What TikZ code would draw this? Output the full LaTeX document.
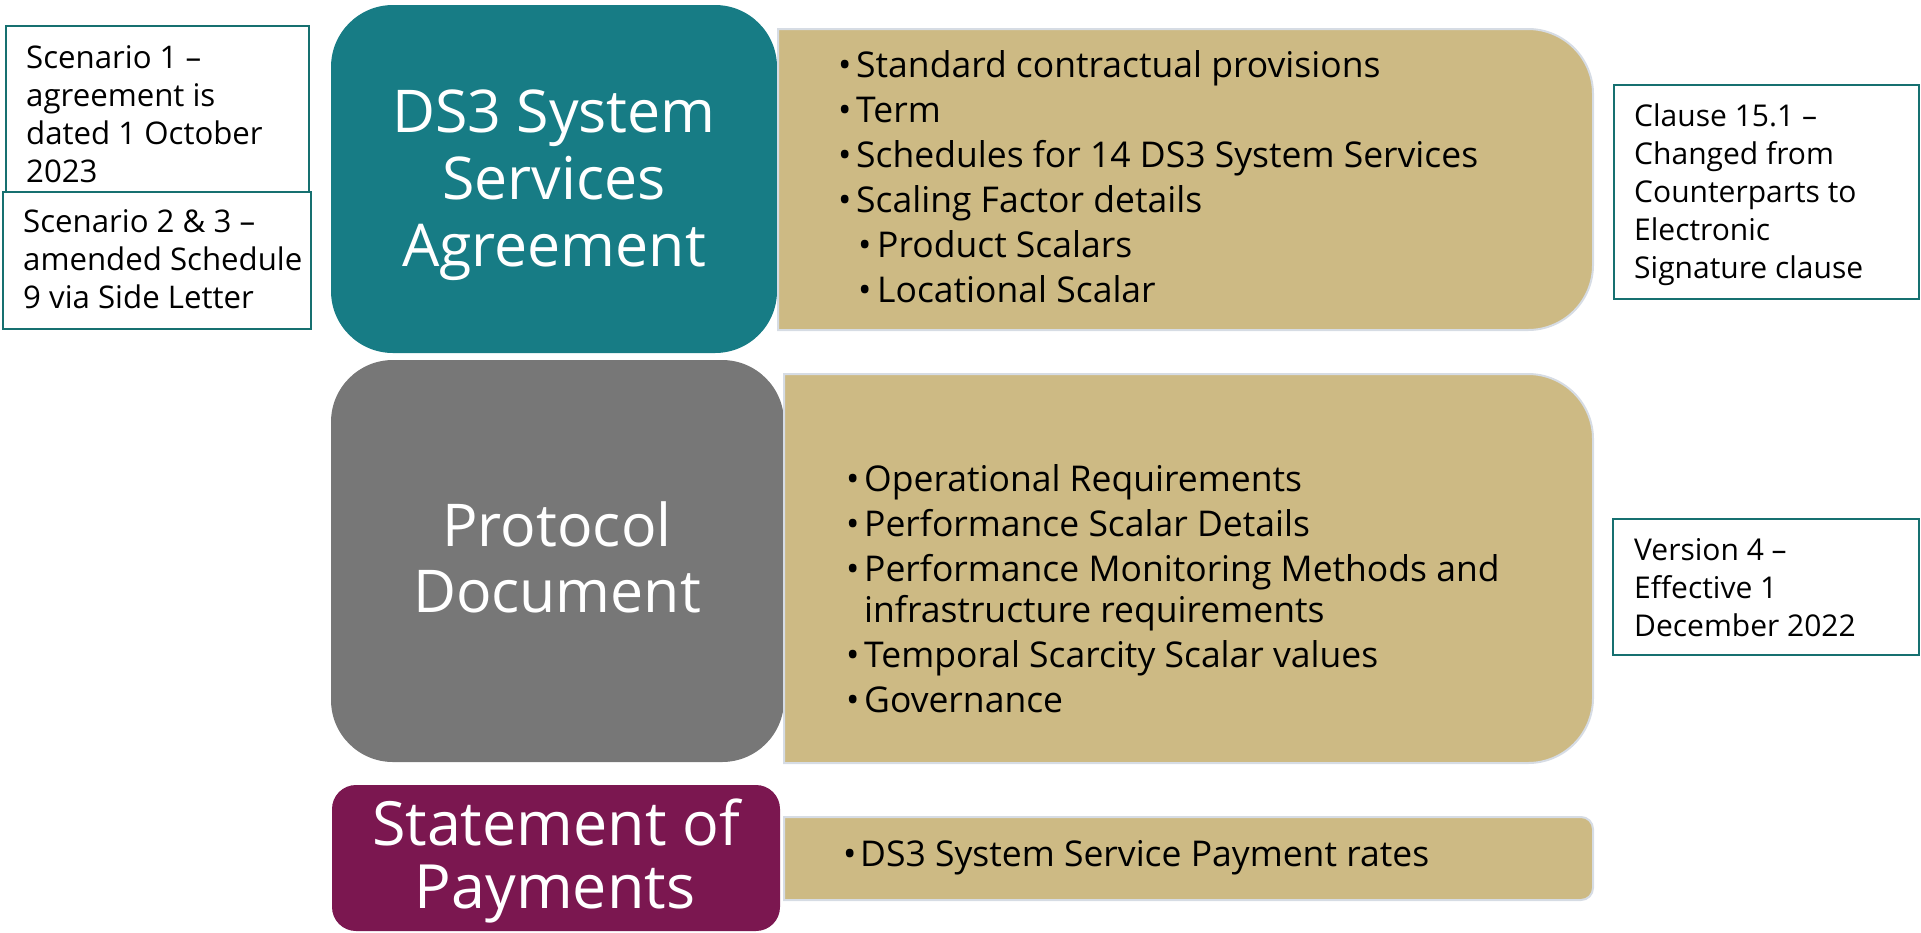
\documentclass[tikz,border=0pt]{standalone}
\usepackage{fontspec}
\setmainfont{Open Sans}
\definecolor{tealbox}{RGB}{23,124,133}
\definecolor{graybox}{RGB}{119,119,119}
\definecolor{purplebox}{RGB}{123,23,80}
\definecolor{tanbox}{RGB}{205,186,132}
\definecolor{tanedge}{RGB}{214,220,228}
\definecolor{noteedge}{RGB}{22,112,112}
\newcommand{\rrbox}[5]{% x1,y1,x2,y2,r : right corners rounded
  \path[tanfill] (#1,#2) -- ({#3-#5},#2) arc[start angle=-90,end angle=0,radius=#5]
    -- (#3,{#4-#5}) arc[start angle=0,end angle=90,radius=#5] -- (#1,#4) -- cycle;}
\tikzset{
  tanfill/.style={fill=tanbox,draw=tanedge,line width=2pt},
  notebox/.style={draw=noteedge,line width=2.5pt,fill=white},
  titletext/.style={anchor=base,text=white,inner sep=0pt,font=\fontsize{59}{67}\selectfont},
  bul/.style={anchor=base west,inner sep=0pt,font=\fontsize{35.5}{45}\selectfont},
  notetext/.style={anchor=base west,inner sep=0pt,font=\fontsize{30}{38}\selectfont},
  scentext/.style={anchor=base west,inner sep=0pt,font=\fontsize{31.2}{38}\selectfont},
}
\begin{document}
\begin{tikzpicture}[x=1pt,y=-1pt]
\useasboundingbox (0,0) rectangle (1921,932);
% main boxes
\fill[tealbox,rounded corners=62pt] (331,5) rectangle (777,353);
\fill[graybox,rounded corners=62pt] (331,360) rectangle (784,762);
\fill[purplebox,rounded corners=24pt] (332,785) rectangle (780,931);
\rrbox{778}{29}{1593}{330}{65}
\rrbox{784}{374}{1593}{763}{65}
\rrbox{784}{817}{1593}{900}{12}
% note boxes
\draw[notebox] (6,26) rectangle (309,193);
\draw[notebox] (3,192) rectangle (311,329);
\draw[notebox] (1614,85) rectangle (1919,299);
\draw[notebox] (1613,519) rectangle (1919,655);
% titles
\node[titletext] (t1a) at (554,132) {DS3 System};
\node[titletext] (t1b) at (554,199) {Services};
\node[titletext] (t1c) at (554,266) {Agreement};
\node[titletext] (t2a) at (557,546) {Protocol};
\node[titletext] (t2b) at (557,612) {Document};
\node[titletext,font=\fontsize{61}{67}\selectfont] (t3a) at (556,845) {Statement of};
\node[titletext,font=\fontsize{61}{67}\selectfont] (t3b) at (555,908) {Payments};
% bullets box 1
\node[bul] (d1) at (838,77) {•}; \node[bul] (s1) at (856,77) {Standard contractual provisions};
\node[bul] (d2) at (838,122) {•}; \node[bul] (s2) at (856,122) {Term};
\node[bul] (d3) at (838,167) {•}; \node[bul] (s3) at (856,167) {Schedules for 14 DS3 System Services};
\node[bul] (d4) at (838,212) {•}; \node[bul] (s4) at (856,212) {Scaling Factor details};
\node[bul] (d5) at (858,257) {•}; \node[bul] (s5) at (877,257) {Product Scalars};
\node[bul] (d6) at (858,302) {•}; \node[bul] (s6) at (877,302) {Locational Scalar};
% bullets box 2
\node[bul] (e1) at (846,491) {•}; \node[bul] (p1) at (864,491) {Operational Requirements};
\node[bul] (e2) at (846,536) {•}; \node[bul] (p2) at (864,536) {Performance Scalar Details};
\node[bul] (e3) at (846,581) {•}; \node[bul] (p3) at (864,581) {Performance Monitoring Methods and};
\node[bul] (p3b) at (864,622) {infrastructure requirements};
\node[bul] (e4) at (846,667) {•}; \node[bul] (p4) at (864,667) {Temporal Scarcity Scalar values};
\node[bul] (e5) at (846,712) {•}; \node[bul] (p5) at (864,712) {Governance};
% bullets box 3
\node[bul] (f1) at (843,866) {•}; \node[bul] (q1) at (860,866) {DS3 System Service Payment rates};
% notes
\node[scentext] (n1a) at (26,68) {Scenario 1 –};
\node[scentext] (n1b) at (26,106) {agreement is};
\node[scentext] (n1c) at (26,144) {dated 1 October};
\node[scentext] (n1d) at (26,182) {2023};
\node[scentext] (n2a) at (23,232) {Scenario 2 \& 3 –};
\node[scentext] (n2b) at (23,270) {amended Schedule};
\node[scentext] (n2c) at (23,308) {9 via Side Letter};
\node[notetext] (n3a) at (1634,126) {Clause 15.1 –};
\node[notetext] (n3b) at (1634,164) {Changed from};
\node[notetext] (n3c) at (1634,202) {Counterparts to};
\node[notetext] (n3d) at (1634,240) {Electronic};
\node[notetext] (n3e) at (1634,278) {Signature clause};
\node[notetext] (n4a) at (1634,560) {Version 4 –};
\node[notetext] (n4b) at (1634,598) {Effective 1};
\node[notetext] (n4c) at (1634,636) {December 2022};
\end{tikzpicture}
\end{document}
